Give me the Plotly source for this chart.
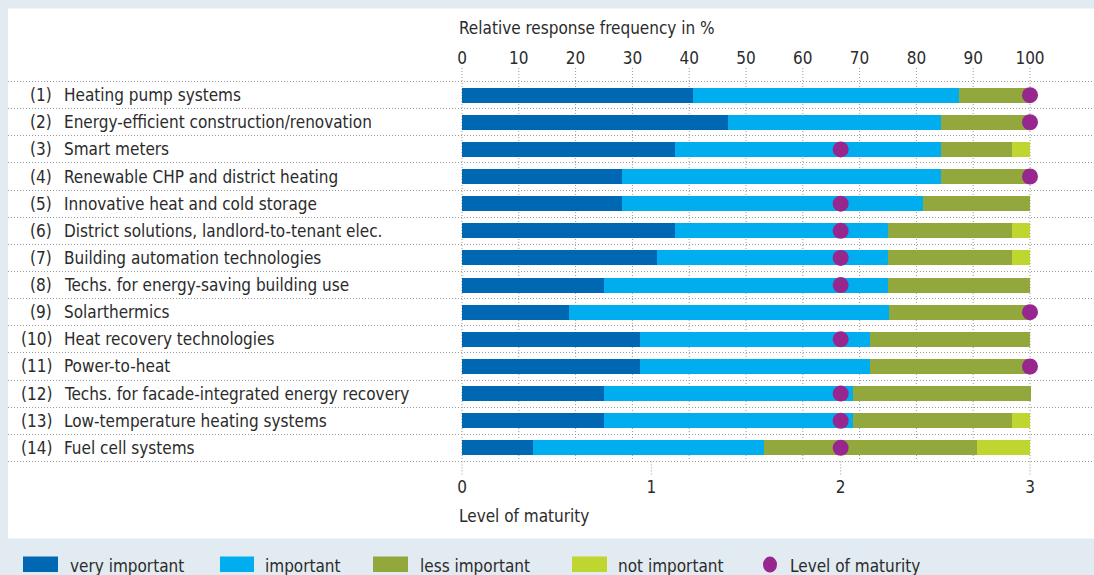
import plotly.graph_objects as go

# ---------------- data ----------------
numbers = ["(1)", "(2)", "(3)", "(4)", "(5)", "(6)", "(7)", "(8)", "(9)", "(10)", "(11)", "(12)", "(13)", "(14)"]
categories = [
    "Heating pump systems",
    "Energy-efficient construction/renovation",
    "Smart meters",
    "Renewable CHP and district heating",
    "Innovative heat and cold storage",
    "District solutions, landlord-to-tenant elec.",
    "Building automation technologies",
    "Techs. for energy-saving building use",
    "Solarthermics",
    "Heat recovery technologies",
    "Power-to-heat",
    "Techs. for facade-integrated energy recovery",
    "Low-temperature heating systems",
    "Fuel cell systems",
]
very_important = [40.6, 46.9, 37.5, 28.1, 28.1, 37.5, 34.4, 25.0, 18.8, 31.3, 31.3, 25.0, 25.0, 12.5]
important = [46.9, 37.5, 46.9, 56.3, 53.1, 37.5, 40.6, 50.0, 56.3, 40.6, 40.6, 43.8, 43.8, 40.6]
less_important = [12.5, 15.6, 12.5, 15.6, 18.8, 21.9, 21.9, 25.0, 25.0, 28.1, 28.1, 31.3, 28.1, 37.5]
not_important = [0, 0, 3.1, 0, 0, 3.1, 3.1, 0, 0, 0, 0, 0, 3.1, 9.4]
maturity = [3, 3, 2, 3, 2, 2, 2, 2, 3, 2, 3, 2, 2, 2]

pct_ticks = [0, 10, 20, 30, 40, 50, 60, 70, 80, 90, 100]
maturity_ticks = [0, 1, 2, 3]

series_names = ["very important", "important", "less important", "not important"]
series_values = [very_important, important, less_important, not_important]
series_colors = ["#0068b3", "#00adee", "#92a83c", "#bed62f"]
dot_color = "#97268f"
text_color = "#2b2b2b"
grid_color = "#9a9a9a"
DOTS = "1px,2px"
FONT = "Liberation Sans Narrow, DejaVu Sans Condensed, Arial Narrow, sans-serif"

# ---------------- geometry ----------------
W, H = 1094, 575
ML, MR, MT, MB = 8, 0, 68.4, 100.4
PW, PH = W - ML - MR, H - MT - MB
x0px, x100px = 462, 1030
ppu = (x100px - x0px) / 100.0
pct_range = [(ML - x0px) / ppu, (W - MR - x0px) / ppu]
mat_range = [pct_range[0] * 3 / 100.0, pct_range[1] * 3 / 100.0]

def px(x):
    return (x - ML) / PW

def py(y):
    return (H - MB - y) / PH

ys = list(range(len(categories)))

fig = go.Figure()

for name, vals, col in zip(series_names, series_values, series_colors):
    fig.add_trace(go.Bar(
        y=ys, x=vals, orientation="h", name=name,
        marker=dict(color=col, line=dict(width=0)),
        width=0.55, xaxis="x", yaxis="y", showlegend=False,
        hovertemplate="%{x}%<extra>" + name + "</extra>",
    ))

fig.add_trace(go.Scatter(
    y=ys, x=maturity, mode="markers", name="Level of maturity",
    marker=dict(color=dot_color, size=16, line=dict(width=0)),
    xaxis="x2", yaxis="y", showlegend=False, cliponaxis=False,
))

shapes = []
# white panel
shapes.append(dict(type="rect", xref="paper", yref="paper",
                   x0=px(8), x1=px(1094), y0=py(538), y1=py(9),
                   fillcolor="white", line=dict(width=0), layer="below"))
# vertical dotted grid for percent axis
for t in pct_ticks:
    shapes.append(dict(type="line", xref="x", yref="y", x0=t, x1=t,
                       y0=-1, y1=len(categories) - 0.5,
                       line=dict(color=grid_color, width=1, dash=DOTS), layer="below"))
# vertical dotted grid for maturity axis
for t in maturity_ticks:
    shapes.append(dict(type="line", xref="x2", yref="y", x0=t, x1=t,
                       y0=len(categories) - 0.5, y1=len(categories),
                       line=dict(color=grid_color, width=1, dash=DOTS), layer="below"))

annotations = []
for i, (n, c) in enumerate(zip(numbers, categories)):
    annotations.append(dict(xref="paper", yref="y", x=px(54), y=i, text=n,
                            xanchor="right", yanchor="middle", showarrow=False,
                            font=dict(size=17, color=text_color, family=FONT)))
    annotations.append(dict(xref="paper", yref="y", x=px(62), y=i, text=c,
                            xanchor="left", yanchor="middle", showarrow=False,
                            font=dict(size=17, color=text_color, family=FONT)))

annotations.append(dict(xref="paper", yref="paper", x=px(457), y=py(28),
                        text="Relative response frequency in %", xanchor="left",
                        yanchor="middle", showarrow=False,
                        font=dict(size=17, color=text_color, family=FONT)))
annotations.append(dict(xref="paper", yref="paper", x=px(457), y=py(516),
                        text="Level of maturity", xanchor="left",
                        yanchor="middle", showarrow=False,
                        font=dict(size=17, color=text_color, family=FONT)))

# manual legend
leg_items = [
    (23, 58, 68, series_colors[0], series_names[0]),
    (220, 254, 263, series_colors[1], series_names[1]),
    (373, 408, 418, series_colors[2], series_names[2]),
    (572, 607, 616, series_colors[3], series_names[3]),
]
for a, b, tx, col, name in leg_items:
    shapes.append(dict(type="rect", xref="paper", yref="paper",
                       x0=px(a), x1=px(b), y0=py(571.5), y1=py(556),
                       fillcolor=col, line=dict(width=0)))
    annotations.append(dict(xref="paper", yref="paper", x=px(tx), y=py(565),
                            text=name, xanchor="left", yanchor="middle", showarrow=False,
                            font=dict(size=17, color=text_color, family=FONT)))
shapes.append(dict(type="circle", xref="paper", yref="paper",
                   x0=px(763), x1=px(777), y0=py(572), y1=py(556),
                   fillcolor=dot_color, line=dict(width=0)))
annotations.append(dict(xref="paper", yref="paper", x=px(788), y=py(565),
                        text="Level of maturity", xanchor="left", yanchor="middle",
                        showarrow=False, font=dict(size=17, color=text_color, family=FONT)))

fig.update_layout(
    width=W, height=H,
    margin=dict(l=ML, r=MR, t=MT, b=MB, pad=0),
    paper_bgcolor="#e2ebf1",
    plot_bgcolor="rgba(0,0,0,0)",
    barmode="stack",
    bargap=0.45,
    showlegend=False,
    font=dict(family=FONT, size=17, color=text_color),
    xaxis=dict(range=pct_range, tickvals=pct_ticks, side="top",
               showgrid=False, zeroline=False, showline=False, ticks="", ticklabelstandoff=0,
               tickfont=dict(size=17, color=text_color, family=FONT), fixedrange=True),
    xaxis2=dict(range=mat_range, tickvals=maturity_ticks, overlaying="x", side="bottom",
                showgrid=False, zeroline=False, showline=False, ticks="", ticklabelstandoff=0,
                tickfont=dict(size=17, color=text_color, family=FONT), fixedrange=True),
    yaxis=dict(range=[len(categories), -1], tickvals=[i + 0.5 for i in range(-1, len(categories))],
               showticklabels=False, showgrid=True, gridcolor=grid_color, griddash=DOTS,
               gridwidth=1, zeroline=False, showline=False, ticks="", fixedrange=True),
    shapes=shapes,
    annotations=annotations,
)

fig.write_html("out.html", config={"displayModeBar": False},
               post_script="document.body.style.margin='0';document.body.style.overflow='hidden';")
